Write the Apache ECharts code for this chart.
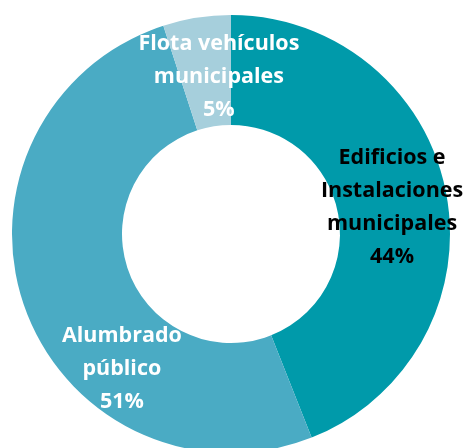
<!DOCTYPE html>
<html>
<head>
<meta charset="utf-8">
<style>
  html, body { margin: 0; padding: 0; background: #ffffff; }
  #chart { width: 465px; height: 448px; }
</style>
<script src="https://cdn.jsdelivr.net/npm/echarts@6/dist/echarts.min.js"></script>
</head>
<body>
<div id="chart"></div>
<script>
// Consumo energético municipal por sector (%)
const categories = ['Edificios e\nInstalaciones\nmunicipales', 'Alumbrado\npúblico', 'Flota vehículos\nmunicipales'];
const shares = [44, 51, 5];

const sliceColors = ['#009aaa', '#4aabc4', '#a6cfdc'];
const labelColors = ['#000000', '#ffffff', '#ffffff'];
const labelOffsets = [[-3, 5], [48, 78], [14, 8]];

const chart = echarts.init(document.getElementById('chart'), null, { renderer: 'canvas' });

const data = categories.map((name, i) => ({
  name: name,
  value: shares[i],
  itemStyle: { color: sliceColors[i] },
  label: { color: labelColors[i], offset: labelOffsets[i] }
}));

chart.setOption({
  animation: false,
  series: [{
    type: 'pie',
    center: [231, 234],
    radius: [109, 219],
    startAngle: 90,
    clockwise: true,
    silent: true,
    avoidLabelOverlap: false,
    itemStyle: { borderWidth: 0 },
    label: {
      show: true,
      position: 'inside',
      formatter: p => p.name + '\n' + p.value + '%',
      fontFamily: 'Open Sans',
      fontWeight: 'bold',
      fontSize: 21.5,
      lineHeight: 33,
      align: 'center'
    },
    labelLine: { show: false },
    data: data
  }]
});
</script>
</body>
</html>
